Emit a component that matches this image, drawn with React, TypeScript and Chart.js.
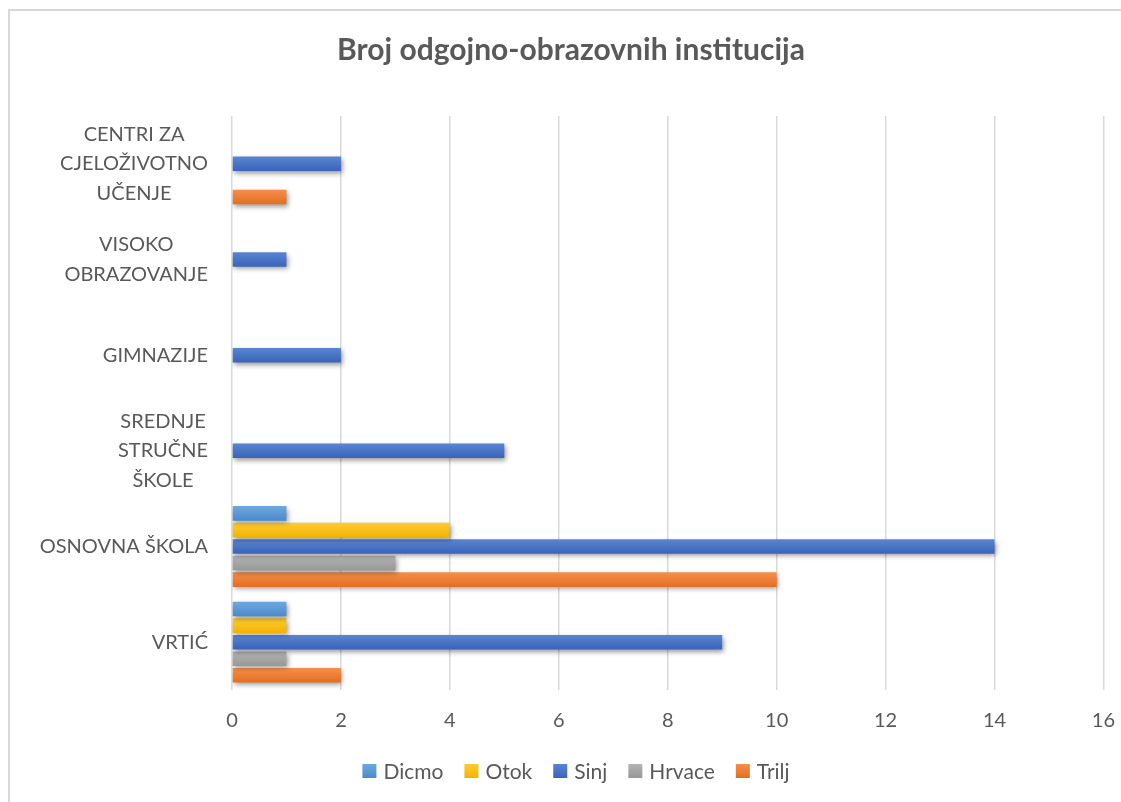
import React, { useEffect, useRef } from "react";
import { Chart, registerables } from "chart.js";

Chart.register(...registerables);

const title = "Broj odgojno-obrazovnih institucija";
const categories: string[][] = [
  ["CENTRI ZA", "CJELOŽIVOTNO", "UČENJE"],
  ["VISOKO", "OBRAZOVANJE"],
  ["GIMNAZIJE"],
  ["SREDNJE", "STRUČNE", "ŠKOLE"],
  ["OSNOVNA ŠKOLA"],
  ["VRTIĆ"],
];
const seriesNames = ["Dicmo", "Otok", "Sinj", "Hrvace", "Trilj"];
const dicmo = [null, null, null, null, 1, 1];
const otok = [null, null, null, null, 4, 1];
const sinj = [2, 1, 2, 5, 14, 9];
const hrvace = [null, null, null, null, 3, 1];
const trilj = [1, null, null, null, 10, 2];
const xMin = 0;
const xMax = 16;
const xStep = 2;

const colors = ["#5B9BD5", "#FFC000", "#4472C4", "#A5A5A5", "#ED7D31"];
const lightColors = ["#6FA8DE", "#FFCB33", "#5A85D1", "#B3B3B3", "#F58E4C"];
const darkColors = ["#4A8ACB", "#F0B400", "#3A64B8", "#989898", "#E36F20"];

const FONT = "Lato, 'Open Sans', sans-serif";
const TEXT = "#595959";
const CAT_PCT = 0.865;
const BAR_PCT = 0.88;
const CANVAS_W = 1134;

function barGradient(ctx: any, i: number) {
  const chart = ctx.chart;
  const y = chart.scales && chart.scales.y;
  if (ctx.type !== "data" || !y || !chart.chartArea) return colors[i];
  const n = seriesNames.length;
  const band = (y.bottom - y.top) / categories.length;
  const group = band * CAT_PCT;
  const slot = group / n;
  const c = y.getPixelForValue(ctx.dataIndex) - group / 2 + slot * (i + 0.5);
  const h = slot * BAR_PCT;
  const g = chart.ctx.createLinearGradient(0, c - h / 2, 0, c + h / 2);
  g.addColorStop(0, lightColors[i]);
  g.addColorStop(1, darkColors[i]);
  return g;
}

const decorPlugin = {
  id: "decor",
  beforeDraw(chart: any) {
    const ctx = chart.ctx;
    ctx.save();
    ctx.fillStyle = "#ffffff";
    ctx.fillRect(0, 0, chart.width, chart.height);
    ctx.strokeStyle = "#d9d9d9";
    ctx.lineWidth = 2;
    ctx.beginPath();
    ctx.moveTo(9, chart.height);
    ctx.lineTo(9, 10);
    ctx.lineTo(chart.width, 10);
    ctx.stroke();
    ctx.restore();
  },
  beforeDatasetsDraw(chart: any) {
    const ctx = chart.ctx;
    ctx.save();
    ctx.shadowColor = "rgba(0,0,0,0.4)";
    ctx.shadowBlur = 5;
    ctx.shadowOffsetX = 1.5;
    ctx.shadowOffsetY = 2.5;
  },
  afterDatasetsDraw(chart: any) {
    chart.ctx.restore();
  },
  afterDraw(chart: any) {
    const ctx = chart.ctx;
    const y = chart.scales.y;
    ctx.save();
    // title
    ctx.fillStyle = TEXT;
    ctx.font = `bold 30px ${FONT}`;
    ctx.textAlign = "center";
    ctx.textBaseline = "middle";
    ctx.fillText(title, 571, 50);
    // category labels
    ctx.font = `20px ${FONT}`;
    const lineH = 29.5;
    const right = 208;
    categories.forEach((lines, i) => {
      const cy = y.getPixelForValue(i);
      const maxW = Math.max(...lines.map((l) => ctx.measureText(l).width));
      const cx = right - maxW / 2;
      lines.forEach((l, k) => {
        const ly = cy + (k - (lines.length - 1) / 2) * lineH;
        ctx.fillText(l, cx, ly);
      });
    });
    // legend
    ctx.font = `21px ${FONT}`;
    const box = 14;
    const gapBT = 7;
    const gapItems = 21;
    const widths = seriesNames.map((s) => box + gapBT + ctx.measureText(s).width);
    const total = widths.reduce((a, b) => a + b, 0) + gapItems * (seriesNames.length - 1);
    let x = 576 - total / 2;
    const ly = 771;
    seriesNames.forEach((s, i) => {
      const g = ctx.createLinearGradient(0, ly - box / 2, 0, ly + box / 2);
      g.addColorStop(0, lightColors[i]);
      g.addColorStop(1, darkColors[i]);
      ctx.fillStyle = g;
      ctx.fillRect(x, ly - box / 2, box, box);
      ctx.fillStyle = TEXT;
      ctx.textAlign = "left";
      ctx.fillText(s, x + box + gapBT, ly + 1);
      x += widths[i] + gapItems;
    });
    ctx.restore();
  },
};

export default function App() {
  const ref = useRef<HTMLCanvasElement>(null);
  useEffect(() => {
    if (!ref.current) return;
    const allSeries = [dicmo, otok, sinj, hrvace, trilj];
    const chart = new Chart(ref.current, {
      type: "bar",
      data: {
        labels: categories,
        datasets: seriesNames.map((name, i) => ({
          label: name,
          data: allSeries[i] as any,
          backgroundColor: (c: any) => barGradient(c, i),
          borderWidth: 0,
          categoryPercentage: CAT_PCT,
          barPercentage: BAR_PCT,
        })),
      },
      options: {
        indexAxis: "y",
        responsive: false,
        animation: false,
        maintainAspectRatio: false,
        layout: { padding: { left: 224, right: 0, top: 116, bottom: 50 } },
        plugins: {
          legend: { display: false },
          title: { display: false },
          tooltip: { enabled: false },
        },
        scales: {
          y: {
            type: "category",
            offset: true,
            ticks: { display: false },
            grid: { display: false },
            border: { display: false },
          },
          x: {
            min: xMin,
            max: xMax,
            ticks: {
              stepSize: xStep,
              color: TEXT,
              font: { family: FONT, size: 20 },
              padding: 19,
            },
            grid: { color: "#d9d9d9", lineWidth: 1.5, drawTicks: false },
            border: { display: false },
          },
        },
      },
      plugins: [decorPlugin],
    });
    return () => chart.destroy();
  }, []);
  return (
    <div style={{ position: "fixed", left: 0, top: 0, width: 1121, height: 802, overflow: "hidden", background: "#fff" }}>
      <canvas ref={ref} width={CANVAS_W} height={802} style={{ display: "block" }} />
    </div>
  );
}
